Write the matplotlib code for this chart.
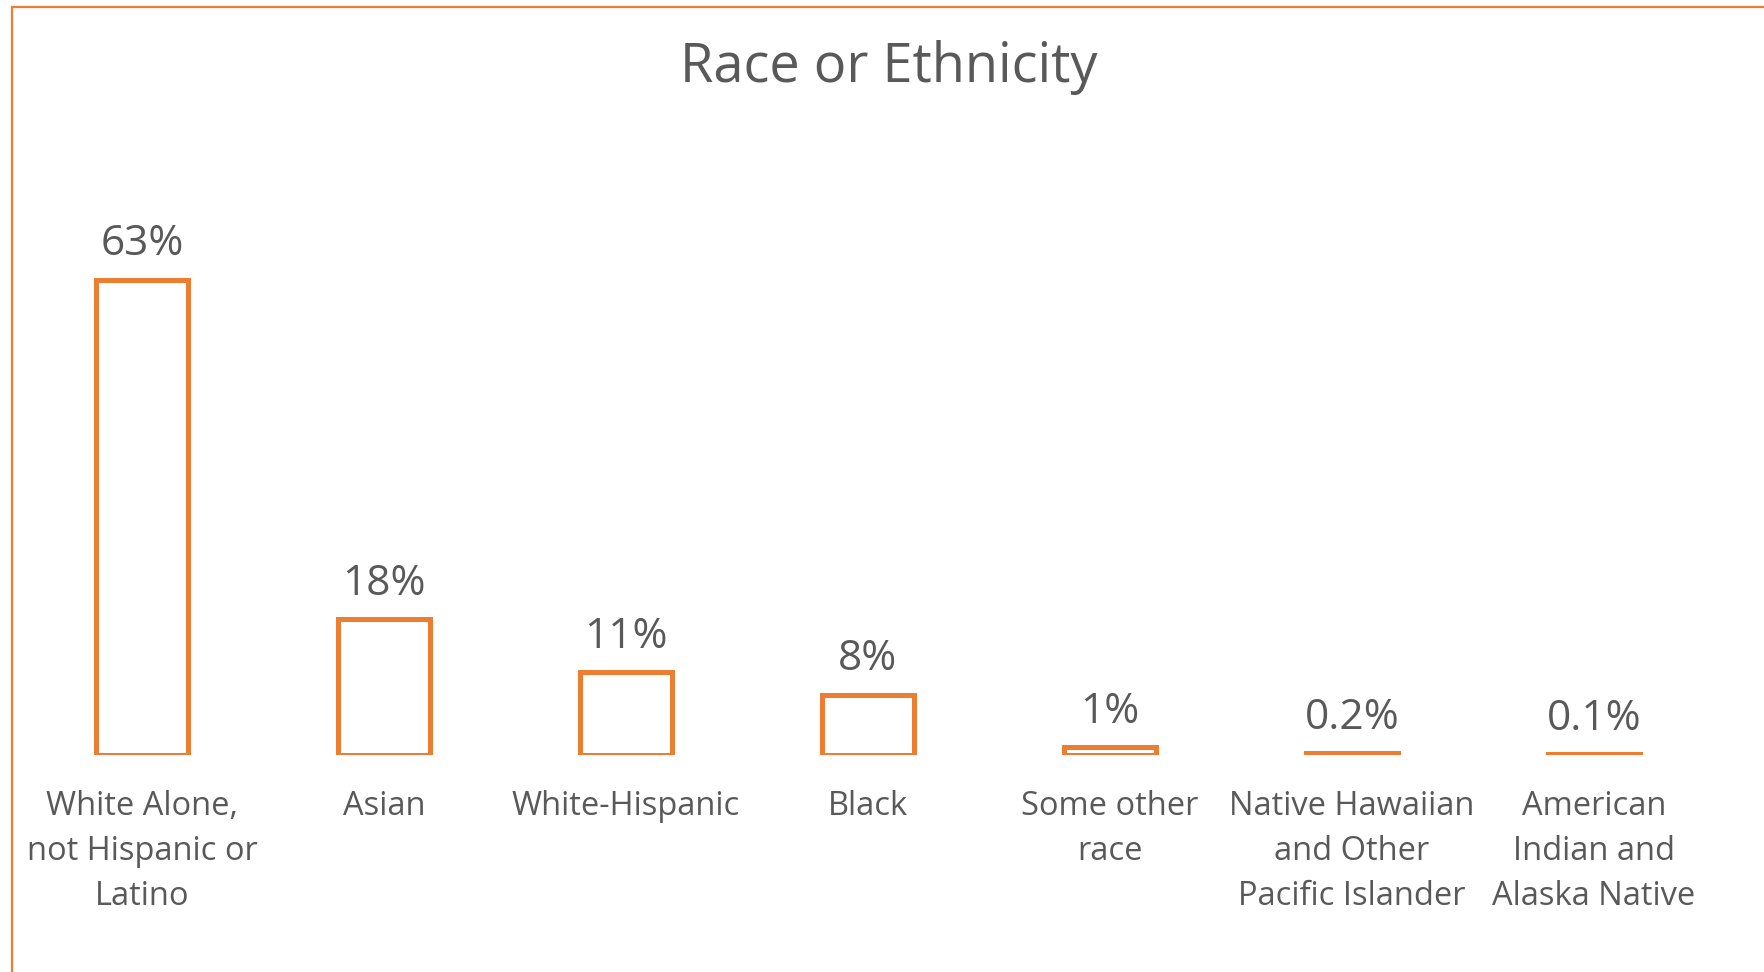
import matplotlib
matplotlib.use("Agg")
import matplotlib.pyplot as plt
from matplotlib.patches import Rectangle

categories = [
    "White Alone,\nnot Hispanic or\nLatino",
    "Asian",
    "White-Hispanic",
    "Black",
    "Some other\nrace",
    "Native Hawaiian\nand Other\nPacific Islander",
    "American\nIndian and\nAlaska Native",
]
shares = [63, 18, 11, 8, 1, 0.2, 0.1]
share_labels = ["63%", "18%", "11%", "8%", "1%", "0.2%", "0.1%"]

ORANGE = "#ED7D31"
GREY = "#595959"
plt.rcParams["font.family"] = ["Open Sans", "DejaVu Sans"]

W, H = 1764, 972
fig = plt.figure(figsize=(W / 100, H / 100), dpi=100)
fig.patch.set_facecolor("white")

# plot area in pixel terms
x0, x1 = 21, 1715
y_zero, y_top = 755, 227
ax = fig.add_axes([x0 / W, 1 - y_zero / H, (x1 - x0) / W, (y_zero - y_top) / H])

positions = list(range(len(categories)))
ax.bar(positions, shares, width=0.378, facecolor="none", edgecolor=ORANGE,
       linewidth=3.6, joinstyle="miter")
ax.set_xlim(-0.5, len(categories) - 0.5)
ax.set_ylim(0, 70)

for x, v, s in zip(positions, shares, share_labels):
    ax.annotate(s, (x, v), xytext=(0, 17.5), textcoords="offset points",
                ha="center", va="baseline", fontsize=30.5, color=GREY)

ax.set_xticks(positions)
ax.set_xticklabels(categories, fontsize=23.5, color=GREY, linespacing=1.48)
ax.tick_params(axis="x", length=0, pad=25.5)
ax.set_yticks([])
for sp in ax.spines.values():
    sp.set_visible(False)

fig.text(889 / W, 1 - 82 / H, "Race or Ethnicity", ha="center", va="baseline",
         fontsize=39, color=GREY)

# chart frame (left and top edges sit inside the image)
fig.add_artist(Rectangle((11.5 / W, -0.1), 1.2, 1.1 - 6.5 / H,
                         transform=fig.transFigure, fill=False,
                         edgecolor=ORANGE, linewidth=1.6))

fig.savefig("out.png", dpi=100, facecolor="white")
